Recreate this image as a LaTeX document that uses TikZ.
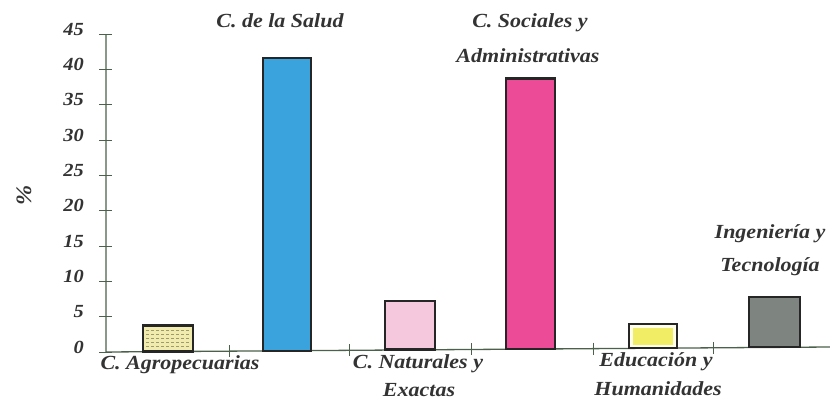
\documentclass[tikz,border=0pt]{standalone}
\usepackage{fontspec}
\setmainfont{Liberation Serif}[FakeStretch=1.1]
\begin{document}
\begin{tikzpicture}[x=1pt,y=-1pt,
  axisline/.style={line width=1.3pt,draw=black!80!green!40!gray},
  barbox/.style={line width=2.6pt,draw=black!85},
  lab/.style={font=\fontsize{20}{20}\selectfont\bfseries\itshape,text=black!80,inner sep=0pt},
  tlab/.style={font=\fontsize{18.5}{18.5}\selectfont\bfseries\itshape,text=black!80,inner sep=0pt,anchor=east}]
\definecolor{agro}{HTML}{F1EBAE}
\definecolor{salud}{HTML}{3AA2DC}
\definecolor{natur}{HTML}{F6C8DE}
\definecolor{socia}{HTML}{EC4B97}
\definecolor{educ}{HTML}{F1EE66}
\definecolor{ingen}{HTML}{7E847F}
\useasboundingbox[fill=white] (0,0) rectangle (830,402);
% axes
\coordinate (o) at (106,352);
\coordinate (ytop) at (106,34);
\coordinate (xend) at (830,347);
\draw[axisline] (ytop) -- (o) -- (xend);
% y ticks and labels
\foreach \v [count=\i from 0] in {0,5,...,45}{
  \pgfmathsetmacro{\yy}{352-\i*35.33}
  \draw[axisline,line width=1pt] (99,\yy) -- (112,\yy);
  \node[tlab] (t\i) at (84,\yy-5) {\v};
}
% x ticks
\foreach \xx in {229,349,471,593,713}{
  \pgfmathsetmacro{\yb}{352-(\xx-106)*5/724}
  \draw[axisline,line width=1pt] (\xx,\yb-6) -- (\xx,\yb+6);
}
% bars
\draw[barbox,fill=agro] (143,351.5) rectangle (193,325.5);
\foreach \yy in {330,334,338,342,346}{
  \draw[black!35!agro,line width=0.6pt,dash pattern=on 3pt off 2pt] (146,\yy) -- (190,\yy);
}
\draw[barbox,fill=salud] (263,351) rectangle (311,58);
\draw[barbox,fill=natur] (385,349.5) rectangle (435,301);
\draw[barbox,fill=socia] (506,349) rectangle (555,78.5);
\draw[barbox,fill=yellow!8] (629,348) rectangle (677,324);
\fill[educ] (633,345) rectangle (673,328);
\draw[barbox,fill=ingen] (749,347) rectangle (800,297);
% category labels
\node[lab] (salud) at (280,21) {C. de la Salud};
\node[lab] (soc1) at (530,23) {C. Sociales y};
\node[lab] (soc2) at (528,56) {Administrativas};
\node[lab] (ing1) at (770,234) {Ingeniería y};
\node[lab] (ing2) at (770,267) {Tecnología};
\node[lab] (agro) at (180,365) {C. Agropecuarias};
\node[lab] (nat1) at (418,364) {C. Naturales y};
\node[lab] (nat2) at (419,390) {Exactas};
\node[lab] (edu1) at (656,362) {Educación y};
\node[lab] (edu2) at (658,389) {Humanidades};
\node[font=\fontsize{22}{22}\selectfont\bfseries\itshape,text=black!80,rotate=90,inner sep=0pt] (pct) at (24,195) {\%};
\end{tikzpicture}
\end{document}
